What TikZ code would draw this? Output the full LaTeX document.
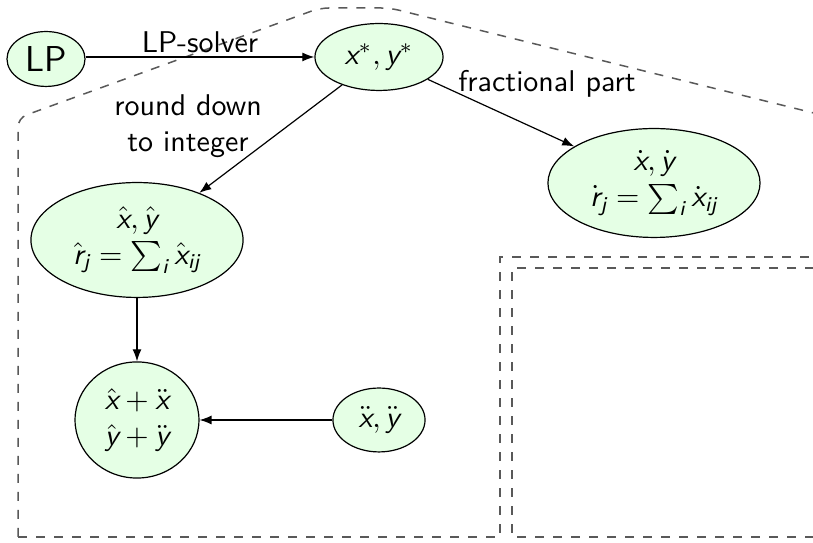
\documentclass[tikz,border=0pt]{standalone}
\usetikzlibrary{shapes.geometric,arrows.meta}
\DeclareMathAlphabet{\mathsfit}{TU}{lmss}{m}{sl}
\newcommand\sv[1]{\mathsfit{#1}}
\begin{document}
\begin{tikzpicture}[x=0.3333pt,y=-0.3333pt,
  font=\sffamily,
  st/.style={ellipse,draw,fill=green!10,inner sep=0pt,align=center},
  arr/.style={-{Latex[length=4pt,width=3pt]}},
  region/.style={dashed,black!65,line width=0.5pt}]
\useasboundingbox (0,0) rectangle (813,543);
\clip (0,0) rectangle (813,543);
% regions
\draw[region,rounded corners=3pt] (18,537) -- (18,118) -- (320,8) -- (390,8) -- (850,122);
\draw[region] (18,537) -- (500,537) -- (500,257) -- (850,257);
\draw[region] (850,268) -- (512,268) -- (512,537) -- (850,537);
% nodes
\node[st,minimum width=26pt,minimum height=18.3pt] (lp) at (46,59) {\large LP};
\node[st,minimum width=42.7pt,minimum height=22.3pt] (xs) at (379,57) {$\sv{x}^*, \sv{y}^*$};
\node[st,minimum width=70.7pt,minimum height=36.3pt] (dot) at (654,183) {$\dot{\sv{x}}, \dot{\sv{y}}$\\$\dot{\sv{r}}_{\sv{j}} = \sum_{\sv{i}} \dot{\sv{x}}_{\sv{ij}}$};
\node[st,minimum width=70.7pt,minimum height=38.3pt] (hat) at (137,240) {$\hat{\sv{x}}, \hat{\sv{y}}$\\$\hat{\sv{r}}_{\sv{j}} = \sum_{\sv{i}} \hat{\sv{x}}_{\sv{ij}}$};
\node[st,minimum width=41.3pt,minimum height=38.7pt] (sum) at (137,420) {$\hat{\sv{x}} + \ddot{\sv{x}}$\\$\hat{\sv{y}} + \ddot{\sv{y}}$};
\node[st,minimum width=30.7pt,minimum height=21.3pt] (dd) at (379,420) {$\ddot{\sv{x}}, \ddot{\sv{y}}$};
% edges
\draw[arr] (lp.east |- xs) -- (xs);
\draw[arr] (xs) -- (hat);
\draw[arr] (xs) -- (dot);
\draw[arr] (hat) -- (sum);
\draw[arr] (dd) -- (sum);
% labels
\node (l1) at (200,42) {LP-solver};
\node[align=center] (l2) at (188,126) {round down\\to integer};
\node (l3) at (547,84) {fractional part};
\end{tikzpicture}
\end{document}
